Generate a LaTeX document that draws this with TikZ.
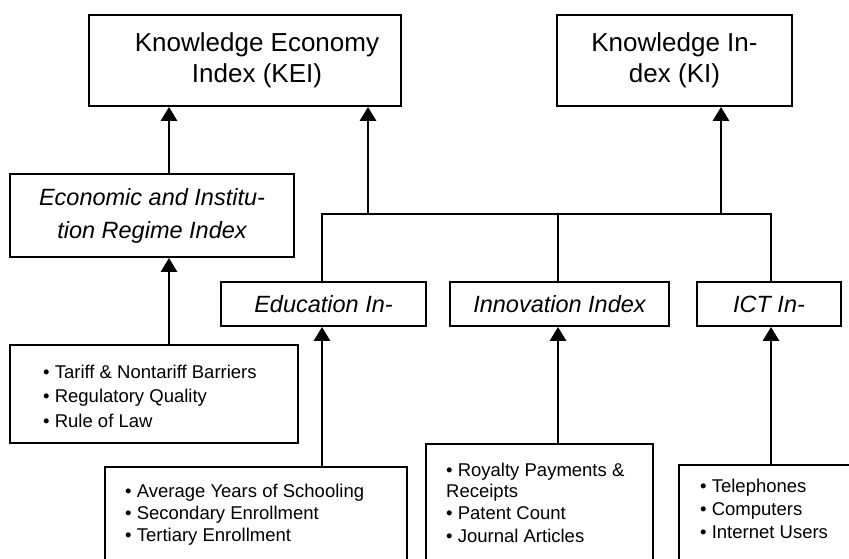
\documentclass[tikz,border=0pt]{standalone}
\usepackage{fontspec}
\setmainfont{Liberation Sans}
\usetikzlibrary{arrows.meta}
\begin{document}
\begin{tikzpicture}[x=1pt,y=-1pt,
  box/.style={draw,line width=1.8pt,inner sep=0pt,align=center},
  bigtxt/.style={font=\fontsize{26}{31}\selectfont,align=center,inner sep=0pt},
  midtxt/.style={font=\fontsize{23.5}{33}\selectfont\itshape},
  lst/.style={inner sep=0pt,anchor=base west,font=\fontsize{18.5}{22}\selectfont},
  link/.style={line width=2.8pt},
  arr/.style={link,-{Triangle[width=16pt,length=14pt]}},
]
\useasboundingbox (0,0) rectangle (849,558);
\clip (0,0) rectangle (849,558);
% top boxes
\node[box,minimum width=312pt,minimum height=91pt] (kei) at (245,60.5) {};
\node[bigtxt] (keit) at (257,60.5) {Knowledge Economy\\Index (KEI)};
\node[box,bigtxt,minimum width=235pt,minimum height=91pt] (ki) at (674.5,60.5) {Knowledge In-\\dex (KI)};
% middle boxes
\node[box,midtxt,minimum width=284pt,minimum height=83pt] (econ) at (152,215.5) {Economic and Institu-\\tion Regime Index};
\node[box,midtxt,minimum width=205pt,minimum height=44pt] (edu) at (323.5,304) {Education In-};
\node[box,midtxt,minimum width=219pt,minimum height=44pt] (inno) at (559.5,304) {Innovation Index};
\node[box,midtxt,minimum width=144pt,minimum height=44pt] (ict) at (769,304) {ICT In-};
% list boxes
\node[box,minimum width=288pt,minimum height=98pt] (l1) at (154,394) {};
\node[box,anchor=north west,minimum width=302pt,minimum height=160pt] (l2) at (104,466) {};
\node[box,anchor=north west,minimum width=227pt,minimum height=160pt] (l3) at (425,443) {};
\node[box,anchor=north west,minimum width=240pt,minimum height=160pt] (l4) at (678,464) {};
% list texts
\node[lst] (l1a) at (43,378) {\textbullet\ Tariff \& Nontariff Barriers};
\node[lst] (l1b) at (43,402.5) {\textbullet\ Regulatory Quality};
\node[lst] (l1c) at (43,427) {\textbullet\ Rule of Law};
\node[lst] (l2a) at (125,497) {\textbullet\ Average Years of Schooling};
\node[lst] (l2b) at (125,519) {\textbullet\ Secondary Enrollment};
\node[lst] (l2c) at (125,541) {\textbullet\ Tertiary Enrollment};
\node[lst] (l3a) at (446,476) {\textbullet\ Royalty Payments \&};
\node[lst] (l3b) at (446,497.5) {Receipts};
\node[lst] (l3c) at (446,519.5) {\textbullet\ Patent Count};
\node[lst] (l3d) at (446,542) {\textbullet\ Journal Articles};
\node[lst] (l4a) at (700,492) {\textbullet\ Telephones};
\node[lst] (l4b) at (700,515) {\textbullet\ Computers};
\node[lst] (l4c) at (700,538) {\textbullet\ Internet Users};
% connector coordinates
\coordinate (kx) at (169,0);
\coordinate (busL) at (322,214);
\coordinate (busM) at (558,214);
\coordinate (busR) at (771,214);
\coordinate (bk) at (368,214);
\coordinate (bki) at (721,214);
% connectors
\draw[arr] (econ.north -| kx) -- (kei.south -| kx);
\draw[arr] (l1.north -| kx) -- (econ.south -| kx);
\draw[link,line join=miter] (edu.north -| busL) -- (busL) -- (busR) -- (ict.north -| busR);
\draw[link] (busM) -- (inno.north -| busM);
\draw[arr] (bk) -- (kei.south -| bk);
\draw[arr] (bki) -- (ki.south -| bki);
\draw[arr] (l2.north -| busL) -- (edu.south -| busL);
\draw[arr] (l3.north -| busM) -- (inno.south -| busM);
\draw[arr] (l4.north -| busR) -- (ict.south -| busR);
\end{tikzpicture}
\end{document}
